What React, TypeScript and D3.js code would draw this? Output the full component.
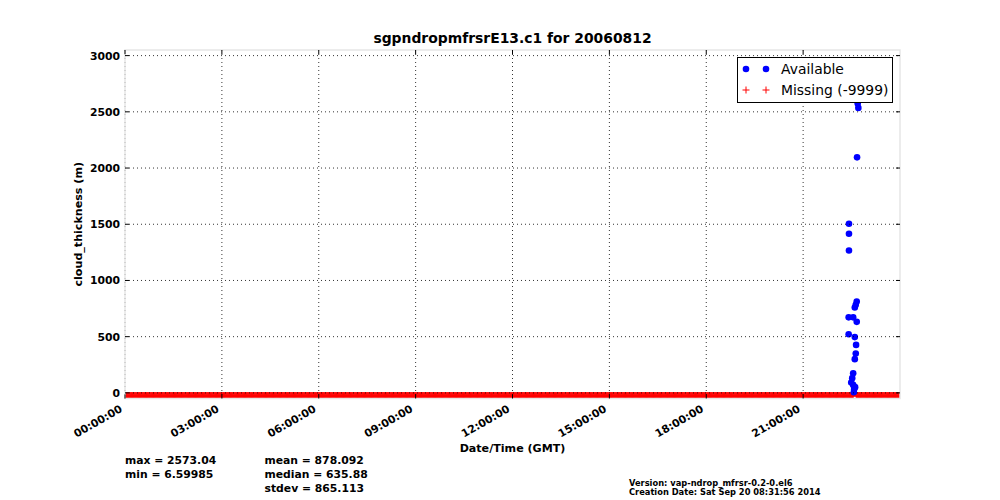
import React from 'react';
import * as d3 from 'd3';

const TITLE = 'sgpndropmfrsrE13.c1 for 20060812';
const X_TICK_HOURS = [0, 3, 6, 9, 12, 15, 18, 21];
const X_TICK_LABELS = ['00:00:00', '03:00:00', '06:00:00', '09:00:00', '12:00:00', '15:00:00', '18:00:00', '21:00:00'];
const Y_TICKS = [0, 500, 1000, 1500, 2000, 2500, 3000];

// available cloud thickness samples (hour of day GMT, metres)
const AVAIL_HOURS = [22.69, 22.71, 22.67, 22.42, 22.42, 22.42, 22.66, 22.63, 22.60, 22.41, 22.55, 22.66, 22.41, 22.60, 22.64, 22.63, 22.60, 22.55, 22.52, 22.49, 22.55, 22.61, 22.58, 22.57];
const AVAIL_VALUES = [2573.04, 2535, 2095, 1504, 1415, 1267, 813, 783, 759, 672, 672, 632, 521, 496, 427, 350, 300, 175, 131, 92, 71, 51, 33, 6.6];

// periods where the value is missing (-9999), in hours, sampled each minute
const MISSING_INTERVALS: [number, number][] = [[0, 22.565], [22.645, 24]];
const MISSING_STEP_HOURS = 1 / 60;
const MISSING_PLOT_VALUE = -25;

const STATS_LEFT = ['max = 2573.04', 'min = 6.59985'];
const STATS_RIGHT = ['mean = 878.092', 'median = 635.88', 'stdev = 865.113'];
const VERSION_LINES = ['Version: vap-ndrop_mfrsr-0.2-0.el6', 'Creation Date: Sat Sep 20 08:31:56 2014'];
const LEGEND_LABELS = ['Available', 'Missing (-9999)'];

const FONT = '"DejaVu Sans", sans-serif';

export default function App() {
  const W = 1000, H = 500;
  const L = 125, R = 900, T = 50, B = 398.5;
  const x = d3.scaleLinear().domain([0, 24]).range([L, R]);
  const y = d3.scaleLinear().domain([-50, 3050]).range([B, T]);

  const missingTimes: number[] = [];
  MISSING_INTERVALS.forEach(([a, b]) => {
    d3.range(a, b + 1e-9, MISSING_STEP_HOURS).forEach((t) => missingTimes.push(t));
  });
  const my = y(MISSING_PLOT_VALUE);
  const plusPath = missingTimes
    .map((t) => {
      const px = x(t);
      return `M${px - 3.5},${my}h7M${px},${my - 3.5}v7`;
    })
    .join('');

  const tickLen = 4;

  return (
    <svg width={W} height={H} style={{ position: 'absolute', left: 0, top: 0, background: '#fff' }} fontFamily={FONT}>
      <rect x={0} y={0} width={W} height={H} fill="#fff" />
      <defs>
        <clipPath id="plotclip">
          <rect x={L} y={T} width={R - L} height={B - T} />
        </clipPath>
      </defs>
      {/* title */}
      <text x={(L + R) / 2} y={43} textAnchor="middle" fontSize={13.9} fontWeight="bold">{TITLE}</text>

      {/* data */}
      <g clipPath="url(#plotclip)">
        <path d={plusPath} stroke="#ff0000" strokeWidth={1} fill="none" />
        {AVAIL_HOURS.map((h, i) => (
          <circle key={i} cx={x(h)} cy={y(AVAIL_VALUES[i])} r={3.3} fill="#0000ff" />
        ))}
      </g>

      {/* grid */}
      <g stroke="#000" strokeWidth={0.8} strokeDasharray="1,3">
        {X_TICK_HOURS.map((h) => (
          <line key={'gx' + h} x1={x(h)} x2={x(h)} y1={T} y2={B} />
        ))}
        {Y_TICKS.map((v) => (
          <line key={'gy' + v} x1={L} x2={R} y1={y(v)} y2={y(v)} />
        ))}
      </g>

      {/* spines */}
      <rect x={L} y={T} width={R - L} height={B - T} fill="none" stroke="#e6e6e6" strokeWidth={1.5} />

      {/* ticks */}
      <g stroke="#000" strokeWidth={1}>
        {X_TICK_HOURS.map((h) => (
          <g key={'tx' + h}>
            <line x1={x(h)} x2={x(h)} y1={B} y2={B - tickLen} />
            <line x1={x(h)} x2={x(h)} y1={T} y2={T + tickLen} />
          </g>
        ))}
        {Y_TICKS.map((v) => (
          <g key={'ty' + v}>
            <line x1={L} x2={L + tickLen} y1={y(v)} y2={y(v)} />
            <line x1={R} x2={R - tickLen} y1={y(v)} y2={y(v)} />
          </g>
        ))}
      </g>

      {/* tick labels */}
      <g fontSize={10.8} fontWeight="bold" fill="#000">
        {Y_TICKS.map((v) => (
          <text key={'ly' + v} x={L - 5} y={y(v) + 4} textAnchor="end">{v}</text>
        ))}
        {X_TICK_HOURS.map((h, i) => (
          <text key={'lx' + h} transform={`translate(${x(h) - 2},${411}) rotate(-30)`} textAnchor="end">
            {X_TICK_LABELS[i]}
          </text>
        ))}
      </g>

      {/* axis labels */}
      <text x={(L + R) / 2} y={452} textAnchor="middle" fontSize={11.1} fontWeight="bold">Date/Time (GMT)</text>
      <text transform={`translate(82,${(T + B) / 2}) rotate(-90)`} textAnchor="middle" fontSize={11.1} fontWeight="bold">
        cloud_thickness (m)
      </text>

      {/* legend */}
      <g>
        <rect x={737.5} y={57.5} width={155} height={45} fill="#fff" stroke="#000" strokeWidth={1} />
        <circle cx={746} cy={69} r={3.3} fill="#0000ff" />
        <circle cx={766} cy={69} r={3.3} fill="#0000ff" />
        <path d="M742.5,90h7M746,86.5v7M762.5,90h7M766,86.5v7" stroke="#ff0000" strokeWidth={1} />
        <text x={781} y={74} fontSize={13.9}>{LEGEND_LABELS[0]}</text>
        <text x={781} y={94.5} fontSize={13.9}>{LEGEND_LABELS[1]}</text>
      </g>

      {/* stats */}
      <g fontSize={10.8} fontWeight="bold">
        {STATS_LEFT.map((s, i) => (
          <text key={'sl' + i} x={125} y={463.5 + i * 14}>{s}</text>
        ))}
        {STATS_RIGHT.map((s, i) => (
          <text key={'sr' + i} x={264.5} y={463.5 + i * 14}>{s}</text>
        ))}
      </g>
      <g fontSize={8.3} fontWeight="bold">
        {VERSION_LINES.map((s, i) => (
          <text key={'v' + i} x={629} y={486 + i * 8.5}>{s}</text>
        ))}
      </g>
    </svg>
  );
}
